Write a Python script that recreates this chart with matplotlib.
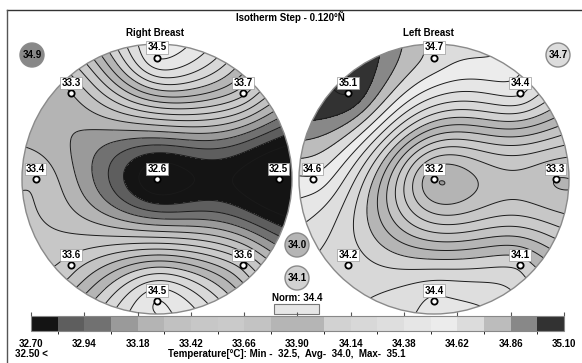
import numpy as np
import matplotlib
matplotlib.use('Agg')
import matplotlib.pyplot as plt
from matplotlib.colors import ListedColormap, BoundaryNorm
from matplotlib.cm import ScalarMappable
from matplotlib.patches import Circle, Rectangle

plt.rcParams['font.family'] = ['Liberation Sans', 'DejaVu Sans']

# ---------------- data ----------------
# sensor order: top, upper-left, upper-right, left, centre, right, lower-left, lower-right, bottom
right_vals = [34.5, 33.3, 33.7, 33.4, 32.6, 32.5, 33.6, 33.6, 34.5]
left_vals = [34.7, 35.1, 34.4, 34.6, 33.2, 33.3, 34.2, 34.1, 34.4]
right_ref = 34.9
left_ref = 34.7
mid_vals = [34.0, 34.1]
norm_val = 34.4
level_min, level_max, level_step = 32.70, 35.10, 0.12
tick_labels = ['32.70', '32.94', '33.18', '33.42', '33.66', '33.90',
               '34.14', '34.38', '34.62', '34.86', '35.10']
band_colors = ['#141414', '#5e5e5e', '#717171', '#9a9a9a', '#b4b4b4',
               '#c1c1c1', '#c7c7c7', '#cacaca', '#c3c3c3', '#b5b5b5',
               '#b5b5b5', '#d2d2d2', '#d8d8d8', '#dedede', '#e6e6e6',
               '#ececec', '#dcdcdc', '#bcbcbc', '#888888', '#323232']
stat_min, stat_avg, stat_max = 32.5, 34.0, 35.1
low_limit = 32.50

# ---------------- layout ----------------
W, H = 582, 363
sensor_u = np.array([0, -0.636, 0.636, -0.9, 0, 0.9, -0.636, 0.636, 0])
sensor_v = np.array([0.9, 0.636, 0.636, 0, 0, 0, -0.636, -0.636, -0.9])
ring = np.array([0, 1, 2, 3, 5, 6, 7, 8])   # sensors on the outer ring
edge_scale = 1.12                           # flat extension of ring readings to the rim
R = 135
centers = {'right': (157, 179), 'left': (434, 179)}

levels = np.round(np.arange(level_min, level_max + 1e-9, level_step), 2)
cmap = ListedColormap(band_colors)
cmap.set_under(band_colors[0])
cmap.set_over(band_colors[-1])
norm = BoundaryNorm(levels, cmap.N)


def tps(u, v, vals, gu, gv):
    n = len(u)

    def phi(r):
        with np.errstate(divide='ignore', invalid='ignore'):
            out = r ** 2 * np.log(r)
        return np.nan_to_num(out)
    d = np.hypot(u[:, None] - u[None, :], v[:, None] - v[None, :])
    A = np.zeros((n + 3, n + 3))
    A[:n, :n] = phi(d)
    Pm = np.column_stack([np.ones(n), u, v])
    A[:n, n:] = Pm
    A[n:, :n] = Pm.T
    b = np.concatenate([np.asarray(vals, float), np.zeros(3)])
    c = np.linalg.solve(A, b)
    r = np.hypot(gu[..., None] - u, gv[..., None] - v)
    return phi(r) @ c[:n] + c[n] + c[n + 1] * gu + c[n + 2] * gv


fig = plt.figure(figsize=(W / 100, H / 100), dpi=100)
ax = fig.add_axes([0, 0, 1, 1])
ax.set_xlim(0, W)
ax.set_ylim(H, 0)
ax.axis('off')

g = np.linspace(-1.02, 1.02, 320)
gu, gv = np.meshgrid(g, g)

for name, vals in (('right', right_vals), ('left', left_vals)):
    cx, cy = centers[name]
    vals_a = np.asarray(vals, float)
    uu = np.concatenate([sensor_u, sensor_u[ring] * edge_scale])
    vv = np.concatenate([sensor_v, sensor_v[ring] * edge_scale])
    zz = np.concatenate([vals_a, vals_a[ring]])
    Z = tps(uu, vv, zz, gu, gv)
    X = cx + R * gu
    Y = cy - R * gv
    clip = Circle((cx, cy), R, transform=ax.transData, fc='none', ec='none')
    ax.add_patch(clip)
    cf = ax.contourf(X, Y, Z, levels=levels, cmap=cmap, norm=norm, extend='both')
    cf.set_clip_path(clip)
    cl = ax.contour(X, Y, Z, levels=levels, colors='#1a1a1a', linewidths=0.7)
    cl.set_clip_path(clip)
    ax.add_patch(Circle((cx, cy), R, fc='none', ec='#8a8a8a', lw=1.0, zorder=3))
    px = cx + R * sensor_u
    py = cy - R * sensor_v
    ax.plot(px, py, 'o', ms=4.5, mfc='white', mec='black', mew=1.3, zorder=5)
    for x, y, v in zip(px, py, vals):
        ax.text(x, y - 10, f'{v:.1f}', ha='center', va='center', fontsize=7,
                fontweight='bold', zorder=6,
                bbox=dict(boxstyle='square,pad=0.12', fc='white', ec='#9a9a9a', lw=0.5))

# frame lines
ax.plot([7, W], [10, 10], color='#333333', lw=1.0)
ax.plot([7, 7], [10, H], color='#555555', lw=1.0)

# titles
ax.text(290, 17, 'Isotherm Step - 0.120°Ñ', ha='center', va='center', fontsize=7, fontweight='bold')
ax.text(155, 33, 'Right Breast', ha='center', va='center', fontsize=7, fontweight='bold')
ax.text(428, 33, 'Left Breast', ha='center', va='center', fontsize=7, fontweight='bold')

# badges
for (bx, by), v in (((32, 55), right_ref), ((558, 55), left_ref),
                     ((297, 245), mid_vals[0]), ((297, 278), mid_vals[1])):
    ax.add_patch(Circle((bx, by), 12, fc=cmap(norm(v)), ec='#8a8a8a', lw=1.0, zorder=4))
    ax.text(bx, by, f'{v:.1f}', ha='center', va='center', fontsize=7, fontweight='bold', zorder=5)

ax.text(297, 298, f'Norm: {norm_val:.1f}', ha='center', va='center', fontsize=7, fontweight='bold')
ax.add_patch(Rectangle((274, 304), 45, 10, fc=cmap(norm(norm_val)), ec='#777777', lw=0.8))

# colorbar
cax = fig.add_axes([31 / W, 1 - 331 / H, 533 / W, 15 / H])
cb = fig.colorbar(ScalarMappable(norm=norm, cmap=cmap), cax=cax, orientation='horizontal',
                  ticks=levels[::2], spacing='proportional')
cb.outline.set_edgecolor('#888888')
cb.outline.set_linewidth(0.8)
cax.set_xticks(levels[::2])
cax.set_xticklabels(tick_labels, fontsize=7, fontweight='bold')
cax.tick_params(axis='x', top=True, bottom=False, labeltop=False, labelbottom=True,
                length=3, width=0.8, color='#555555', pad=3)

ax.text(15, 354, f'{low_limit:.2f} <', ha='left', va='center', fontsize=7, fontweight='bold')
ax.text(168, 354, f'Temperature[°C]: Min -  {stat_min:.1f},  Avg-  {stat_avg:.1f},  Max-  {stat_max:.1f}',
        ha='left', va='center', fontsize=7, fontweight='bold')

fig.savefig('out.png', dpi=100)
